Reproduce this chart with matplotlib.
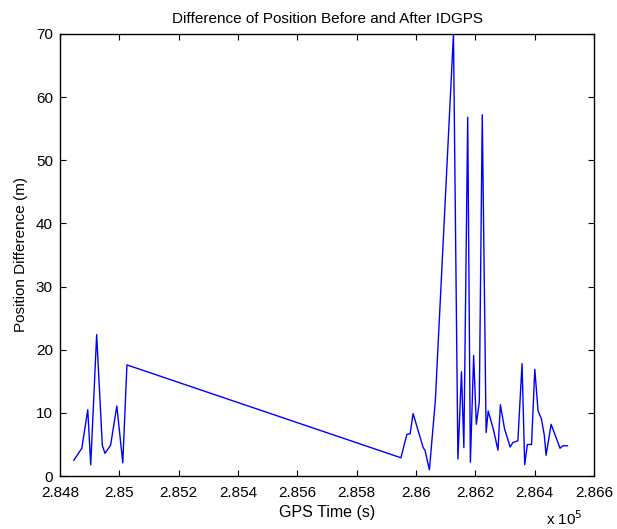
import matplotlib
matplotlib.use("Agg")
import matplotlib.pyplot as plt
import numpy as np

plt.rcParams['font.family'] = ['Liberation Sans', 'DejaVu Sans']

# GPS time (s) and position difference (m)
gps_time = [284847, 284874, 284894, 284904, 284924, 284943, 284952, 284971,
            284992, 285012, 285026, 285949, 285969, 285980, 285990, 286024,
            286030, 286045, 286065, 286126, 286141, 286153, 286161, 286174,
            286183, 286194, 286203, 286213, 286223, 286236, 286243, 286261,
            286276, 286284, 286298, 286317, 286326, 286343, 286357, 286366,
            286375, 286389, 286400, 286411, 286422, 286432, 286438, 286455,
            286485, 286494, 286510]
pos_diff = [2.5, 4.4, 10.5, 1.8, 22.4, 4.9, 3.6, 4.9,
            11.1, 2.1, 17.6, 2.9, 6.6, 6.7, 9.9, 4.5,
            4.1, 1.0, 12.0, 70.0, 2.7, 16.5, 4.5, 56.8,
            2.2, 19.1, 8.2, 11.7, 57.2, 6.9, 10.3, 7.3,
            4.1, 11.3, 7.5, 4.6, 5.3, 5.6, 17.8, 1.8,
            5.0, 5.0, 16.9, 10.3, 9.1, 6.5, 3.3, 8.2,
            4.4, 4.8, 4.8]

x_ticks = [2.848, 2.85, 2.852, 2.854, 2.856, 2.858, 2.86, 2.862, 2.864, 2.866]

fig = plt.figure(figsize=(6.17, 5.29), dpi=100)
ax = fig.add_axes([0.097, 0.100, 0.866, 0.836])

ax.plot(np.array(gps_time) / 1e5, pos_diff, color='blue', linewidth=1.0)

ax.set_xlim(2.848, 2.866)
ax.set_ylim(0, 70)
ax.set_xticks(x_ticks)
ax.set_xticklabels(['%g' % t for t in x_ticks])
ax.set_yticks(range(0, 71, 10))

ax.tick_params(direction='in', top=True, right=True, length=4, width=0.8,
               labelsize=11)
ax.tick_params(axis='x', pad=7)
ax.tick_params(axis='y', pad=5)
for spine in ax.spines.values():
    spine.set_linewidth(1.0)

ax.set_title('Difference of Position Before and After IDGPS', fontsize=11, pad=8)
ax.set_xlabel('GPS Time (s)', fontsize=11.5, labelpad=4)
ax.set_ylabel('Position Difference (m)', fontsize=11, labelpad=6)

fig.text(0.885, 0.008, r'x 10$^{5}$', fontsize=11)

fig.savefig('out.png', dpi=100)
